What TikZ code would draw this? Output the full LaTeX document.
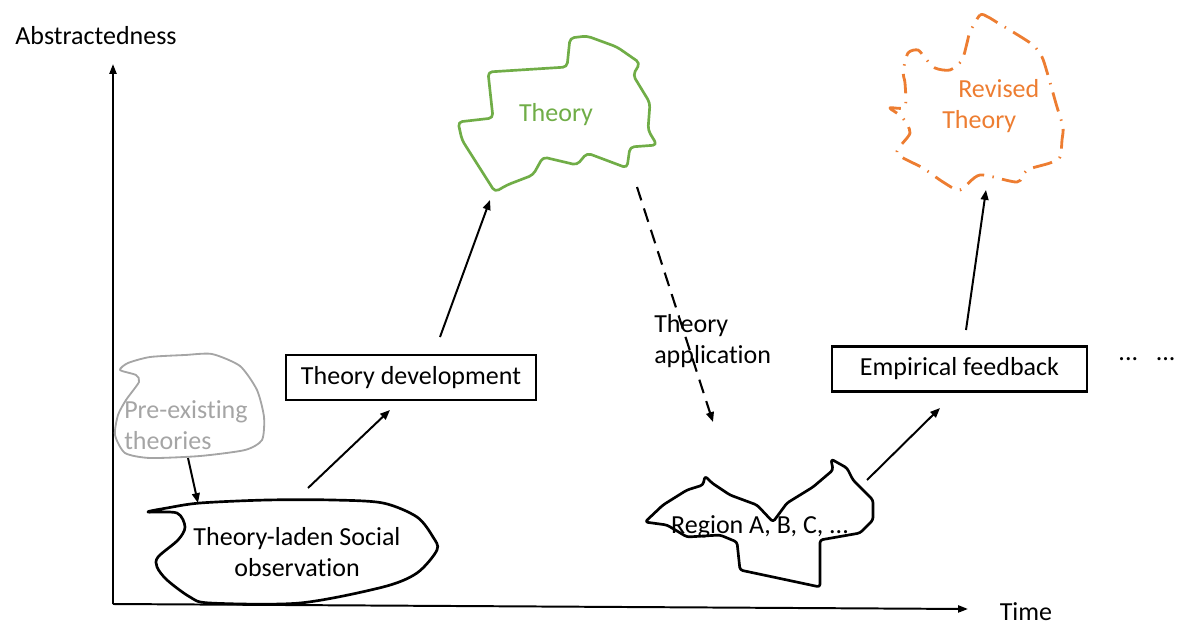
\documentclass[tikz,border=0pt]{standalone}
\usepackage{fontspec}
\setmainfont{Carlito}[Ligatures=NoCommon]
\usetikzlibrary{arrows.meta}
\definecolor{theorygreen}{RGB}{112,173,71}
\definecolor{revisedorange}{RGB}{237,125,49}
\definecolor{pregray}{RGB}{165,165,165}

\begin{document}
\begin{tikzpicture}[x=0.025cm, y=-0.025cm,
  font=\fontsize{18.5}{22.5}\selectfont,
  axis/.style={line width=1.4pt, -{Triangle[length=7pt,width=5pt]}},
  arr/.style={line width=1.4pt, -{Triangle[length=7pt,width=5.5pt]}},
  stepbox/.style={draw, line width=1.8pt, inner sep=0pt, minimum height=1.12cm},
  blob/.style={line width=1.9pt, line join=round}]
\useasboundingbox (0,0) rectangle (1179,626);

% axes
\coordinate (origin) at (113,604);
\coordinate (ytip) at (113,64);
\coordinate (xtip) at (968,609);
\draw[axis] (origin) -- (ytip);
\draw[axis] (origin) -- (xtip);
\node (ylabel) at (96,36) {Abstractedness};
\node (xlabel) at (1026,612) {Time};

% ---------- pre-existing theories and social observation
\draw[blob, pregray, line width=1.3pt] plot[smooth cycle, tension=0.4] coordinates {
  (185,355) (212,354) (240,366) (257,390) (264,417) (262,440) (245,450)
  (200,456) (150,458) (125,453) (115,435) (118,415) (126,400) (139,382)
  (136,375) (120,370) (128,363) (150,357)};
\node[pregray, align=left, anchor=west, inner sep=0pt] (pre) at (124,425)
  {Pre-existing\\theories};

\draw[blob] plot[smooth cycle, tension=0.5] coordinates {
  (148,512) (177,513) (185,527) (178,540) (158,557) (157,567) (167,580)
  (190,597) (210,603) (300,603) (383,587) (417,573) (437,550) (433,537)
  (417,517) (383,503) (333,500) (267,500) (200,503) (167,508)};
\node[align=center] (obs) at (297,552) {Theory-laden Social\\observation};

\coordinate (preout) at (188,458);
\coordinate (obsin) at (198,503);
\coordinate (obsout) at (308,488);
\draw[arr] (preout) -- (obsin);

% ---------- theory development
\node[stepbox, minimum width=6.25cm] (dev) at (411,377.5) {Theory development};
\coordinate (devin) at (390,410);
\coordinate (devout) at (440,337);
\draw[arr] (obsout) -- (devin);

% ---------- theory
\draw[blob, theorygreen, rounded corners=3pt]
  (488,72) -- (567,67) -- (570,38) -- (587,36) -- (617,47) -- (640,63)
  -- (633,75) -- (650,103) -- (648,130) -- (657,145) -- (630,147) -- (627,168)
  -- (587,153) -- (577,165) -- (543,157) -- (533,175) -- (507,185) -- (495,192)
  -- (462,140) -- (458,122) -- (493,118) -- cycle;
\node[theorygreen] (theory) at (556,115) {Theory};
\coordinate (theoryin) at (490,200);
\coordinate (theoryout) at (637,187);
\draw[arr] (devout) -- (theoryin);

% ---------- theory application
\coordinate (regionin) at (713,422);
\draw[arr, dash pattern=on 10pt off 6pt, line width=1.5pt] (theoryout) -- (regionin);
\node[align=left, anchor=west, inner sep=0pt] (appl) at (654,341)
  {Theory\\application};

\draw[blob, rounded corners=2pt]
  (645,522) -- (663,505) -- (687,490) -- (703,485) -- (705,476) -- (712,483)
  -- (730,495) -- (757,505) -- (773,522) -- (787,503) -- (813,487) -- (833,470)
  -- (831,459) -- (847,468) -- (853,480) -- (873,500) -- (873,520) -- (860,533)
  -- (820,540) -- (820,587) -- (773,577) -- (740,570) -- (737,542) -- (720,535)
  -- (687,537) -- (667,525) -- cycle;
\node (region) at (760,527) {Region A, B, C, ...};
\coordinate (regionout) at (867,480);

% ---------- empirical feedback
\node[stepbox, minimum width=6.375cm] (emp) at (959.5,369) {Empirical feedback};
\coordinate (empin) at (940,408);
\coordinate (empout) at (966,330);
\draw[arr] (regionout) -- (empin);
\node[anchor=base] (more) at (1147,360) {...\ \ \ ...};

% ---------- revised theory
\draw[blob, revisedorange, line width=2pt, dash pattern=on 14pt off 6pt on 1pt off 6pt]
  plot[smooth cycle, tension=0.45] coordinates {
  (970,32) (980,15) (988,17) (998,23) (1013,32) (1033,45) (1042,57) (1047,72)
  (1053,93) (1057,107) (1063,127) (1062,140) (1060,157) (1050,163) (1027,170)
  (1017,182) (980,175) (960,190) (943,182) (923,168) (897,153) (910,133)
  (902,117) (890,108) (905,107) (905,83) (903,72) (908,53) (918,50) (925,58)
  (935,68) (950,70) (962,60) (967,43)};
\node[revisedorange, align=left, anchor=west, inner sep=0pt] (revised) at (942,106)
  {\hspace*{0.4cm}Revised\\Theory};
\coordinate (revisedin) at (986,190);
\draw[arr] (empout) -- (revisedin);
\end{tikzpicture}
\end{document}
